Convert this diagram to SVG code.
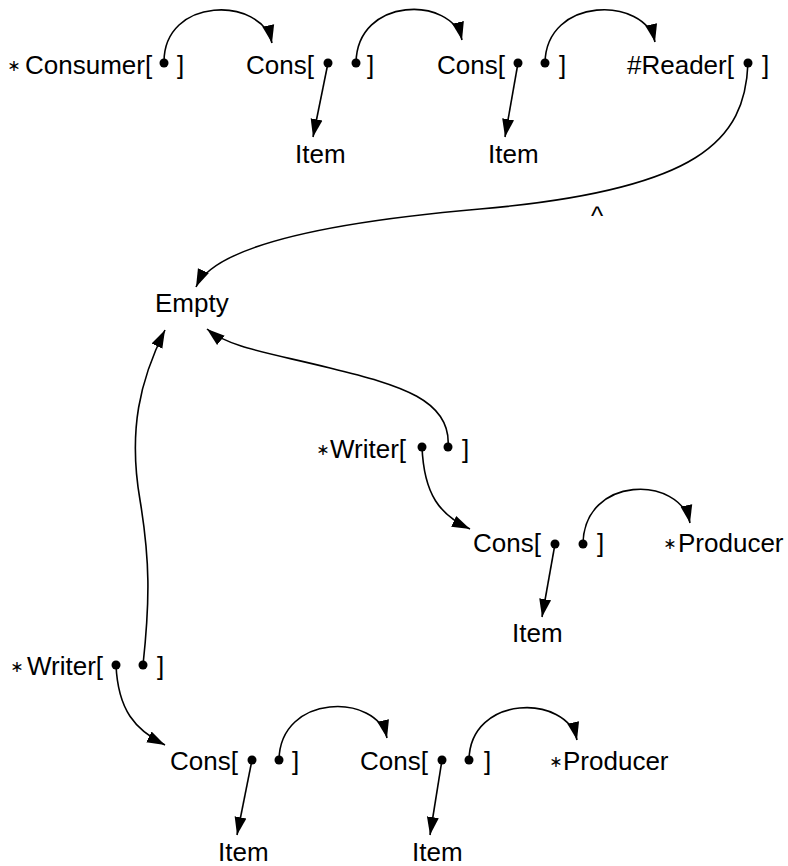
<svg xmlns="http://www.w3.org/2000/svg" width="788" height="866" viewBox="0 0 788 866">
<defs>
<style>
text{font-family:"Liberation Sans",Arial,sans-serif;font-size:26px;fill:#000}
.ast{font-family:"DejaVu Sans","Liberation Sans",sans-serif;font-size:16px;text-anchor:middle}
.c{fill:none;stroke:#000;stroke-width:1.6;marker-end:url(#ah)}
.d{fill:#000}
</style>
<marker id="ah" markerUnits="userSpaceOnUse" markerWidth="20" markerHeight="14" refX="18" refY="7" orient="auto"><path d="M0,1 L18,7 L0,13 z" fill="#000"/></marker>
</defs>
<rect width="788" height="866" fill="#fff"/>
<g id="consumer"><text class="ast" x="14" y="71">∗</text><text x="25" y="74">Consumer[</text><text x="177" y="74">]</text><circle class="d" cx="164" cy="63" r="4.5"/></g>
<g id="cons1"><text x="246" y="74">Cons[</text><text x="367" y="74">]</text><circle class="d" cx="328" cy="63" r="4.5"/><circle class="d" cx="356" cy="63" r="4.5"/></g>
<g id="cons2"><text x="437" y="74">Cons[</text><text x="559" y="74">]</text><circle class="d" cx="518" cy="63" r="4.5"/><circle class="d" cx="545" cy="63" r="4.5"/></g>
<g id="reader"><text x="627" y="74">#Reader[</text><text x="762" y="74">]</text><circle class="d" cx="748" cy="63" r="4.5"/></g>
<g id="item1"><text x="295" y="163">Item</text></g>
<g id="item2"><text x="488" y="163">Item</text></g>
<g id="caret"><text x="597" y="225" text-anchor="middle">^</text></g>
<g id="empty"><text x="155" y="312">Empty</text></g>
<g id="writer2"><text class="ast" x="323" y="455">∗</text><text x="330" y="458">Writer[</text><text x="462" y="458">]</text><circle class="d" cx="422" cy="447" r="4.5"/><circle class="d" cx="448" cy="447" r="4.5"/></g>
<g id="cons3"><text x="473" y="552">Cons[</text><text x="597" y="552">]</text><circle class="d" cx="555" cy="544" r="4.5"/><circle class="d" cx="583" cy="544" r="4.5"/></g>
<g id="producer1"><text class="ast" x="670" y="549">∗</text><text x="678" y="552">Producer</text></g>
<g id="item3"><text x="512" y="642">Item</text></g>
<g id="writer1"><text class="ast" x="17" y="672">∗</text><text x="27" y="675">Writer[</text><text x="157" y="675">]</text><circle class="d" cx="116" cy="665" r="4.5"/><circle class="d" cx="143" cy="665" r="4.5"/></g>
<g id="cons4"><text x="170" y="770">Cons[</text><text x="292" y="770">]</text><circle class="d" cx="252" cy="760" r="4.5"/><circle class="d" cx="279" cy="760" r="4.5"/></g>
<g id="cons5"><text x="360" y="770">Cons[</text><text x="484" y="770">]</text><circle class="d" cx="442" cy="760" r="4.5"/><circle class="d" cx="469" cy="760" r="4.5"/></g>
<g id="producer2"><text class="ast" x="556" y="767">∗</text><text x="563" y="770">Producer</text></g>
<g id="item4"><text x="218" y="861">Item</text></g>
<g id="item5"><text x="412" y="861">Item</text></g>
<g id="connectors">
<path class="c" d="M164,63 C163,-4 262,-4 272,43"/>
<path class="c" d="M356,63 C357,-4 452,-4 462,40"/>
<path class="c" d="M545,63 C546,-4 645,-4 655,42"/>
<path class="c" d="M328,63 L313,137"/>
<path class="c" d="M518,63 L505,137"/>
<path class="c" d="M748,63 C745,140 700,190 480,209 C330,222 215,245 196,287"/>
<path class="c" d="M448,447 C452,400 400,385 330,368 C270,353 230,348 207,329"/>
<path class="c" d="M143,665 C150,600 150,560 140,500 C128,430 140,380 165,330"/>
<path class="c" d="M422,447 C424,495 440,515 470,529"/>
<path class="c" d="M555,544 L542,617"/>
<path class="c" d="M583,544 C584,475 680,475 690,523"/>
<path class="c" d="M116,665 C118,710 135,730 165,745"/>
<path class="c" d="M252,760 L237,835"/>
<path class="c" d="M279,760 C280,693 377,693 387,738"/>
<path class="c" d="M442,760 L430,835"/>
<path class="c" d="M469,760 C470,694 567,694 577,740"/>
</g>
</svg>
